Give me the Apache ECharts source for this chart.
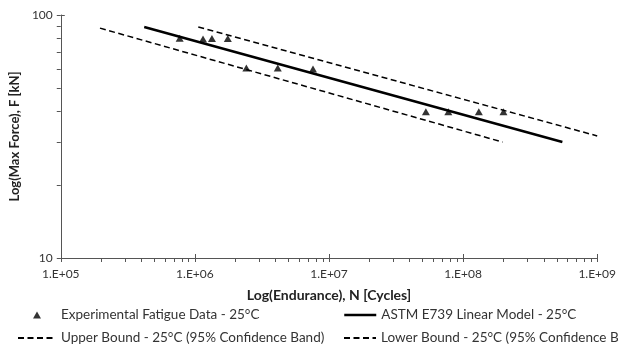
<!DOCTYPE html>
<html><head><meta charset="utf-8">
<script src="https://cdn.jsdelivr.net/npm/echarts@6/dist/echarts.min.js"></script>
<style>html,body{margin:0;padding:0;background:#fff}#c{width:619px;height:350px}</style>
</head><body><div id="c"></div>
<script>
// Experimental fatigue data (cycles, kN)
const expCycles = [7.7e5, 1.15e6, 1.34e6, 1.76e6, 2.42e6, 4.15e6, 7.6e6, 5.28e7, 7.76e7, 1.31e8, 2.0e8];
const expForce  = [80.3, 79.6, 80, 80, 60.5, 60.5, 60, 40, 40, 40, 40];
// ASTM E739 linear model endpoints
const modelCycles = [4.19e5, 5.5e8];
const modelForce  = [89.3, 30.0];
// Upper bound endpoints
const upperCycles = [1.06e6, 1.0e9];
const upperForce  = [89.3, 31.8];
// Lower bound endpoints
const lowerCycles = [1.96e5, 1.97e8];
const lowerForce  = [88.3, 30.0];
// Tick values
const xMajor = [1e5, 1e6, 1e7, 1e8, 1e9];
const xMinor = [];
[1e5,1e6,1e7,1e8].forEach(d => { for (let k=2;k<=9;k++) xMinor.push(d*k); });
const yMajor = [10, 100];
const yMinor = [20, 30, 40, 50, 60, 70, 80, 90];
const seriesNames = ['Experimental Fatigue Data - 25°C','ASTM E739 Linear Model - 25°C','Upper Bound - 25°C (95% Confidence Band)','Lower Bound - 25°C (95% Confidence Band)'];

const FONT = 'Lato';
const axisColor = '#555';
const zip = (a,b) => a.map((v,i)=>[v,b[i]]);
const lg = a => a.map(v => Math.log10(v));
function xLabel(v){ const e = Math.round(Math.log10(v)); return '1.E+' + (e<10?'0':'') + e; }

const chart = echarts.init(document.getElementById('c'));
const baseX = {type:'log', logBase:10, min:1e5, max:1e9, gridIndex:0, position:'bottom', splitLine:{show:false}};
const baseY = {type:'log', logBase:10, min:10, max:100, gridIndex:0, position:'left', splitLine:{show:false}};
// Tick-only overlay axes in exponent space (same pixel mapping as the log axes)
const tickX = {type:'value', min:5, max:9, gridIndex:0, position:'bottom', splitLine:{show:false},
               axisLine:{show:false, onZero:false}, axisLabel:{show:false}};
const tickY = {type:'value', min:1, max:2, gridIndex:0, position:'left', splitLine:{show:false},
               axisLine:{show:false, onZero:false}, axisLabel:{show:false}};
const tickLine = {color:axisColor, width:1};
const legText = {fontFamily:FONT, fontSize:13.5, color:'#333'};
chart.setOption({
  animation:false,
  textStyle:{fontFamily:FONT},
  grid:{left:54, right:19, top:15, bottom:92, containLabel:false},
  xAxis:[
    Object.assign({}, baseX, {
      name:'Log(Endurance), N [Cycles]', nameLocation:'middle', nameGap:30,
      nameTextStyle:{fontFamily:FONT, fontSize:14, fontWeight:'bold', color:'#222'},
      axisLine:{lineStyle:{color:axisColor, width:1}, onZero:false},
      axisTick:{show:false},
      axisLabel:{customValues:xMajor, formatter:xLabel, fontFamily:FONT, fontSize:12, color:'#333', margin:10}
    }),
    Object.assign({}, tickX, {axisTick:{show:true, length:4, lineStyle:tickLine, customValues:lg(xMajor.concat(xMinor))}}),
    Object.assign({}, tickX, {axisTick:{show:true, inside:true, length:4, lineStyle:tickLine, customValues:lg(xMajor)}})
  ],
  yAxis:[
    Object.assign({}, baseY, {
      name:'Log(Max Force), F [kN]', nameLocation:'middle', nameGap:35, nameRotate:90,
      nameTextStyle:{fontFamily:FONT, fontSize:13, fontWeight:'bold', color:'#222'},
      axisLine:{show:true, lineStyle:{color:axisColor, width:1}, onZero:false},
      axisTick:{show:false},
      axisLabel:{customValues:yMajor, fontFamily:FONT, fontSize:12, color:'#333', margin:8}
    }),
    Object.assign({}, tickY, {axisTick:{show:true, length:4, lineStyle:tickLine, customValues:lg(yMajor.concat(yMinor))}}),
    Object.assign({}, tickY, {axisTick:{show:true, inside:true, length:4, lineStyle:tickLine, customValues:lg(yMajor)}})
  ],
  legend:[
    {data:[{name:seriesNames[0], icon:'triangle'}], left:33, top:308, padding:0, itemWidth:8, itemHeight:7,
     textStyle:Object.assign({padding:[0,0,0,15]}, legText)},
    {data:[seriesNames[1]], left:343, top:308, padding:0, itemWidth:32, itemHeight:12, itemStyle:{opacity:0},
     lineStyle:{width:2.5}, textStyle:legText},
    {data:[seriesNames[2]], left:17, top:331, padding:0, itemWidth:38, itemHeight:12, itemStyle:{opacity:0},
     textStyle:legText},
    {data:[seriesNames[3]], left:343, top:331, padding:0, itemWidth:32, itemHeight:12, itemStyle:{opacity:0},
     textStyle:legText}
  ],
  series:[
    {name:seriesNames[0], type:'scatter', symbol:'triangle', symbolSize:[8,7], xAxisIndex:0, yAxisIndex:0,
     itemStyle:{color:'#000'}, data:zip(expCycles, expForce), z:5},
    {name:seriesNames[1], type:'line', symbol:'none', xAxisIndex:0, yAxisIndex:0,
     lineStyle:{color:'#000', width:2.5}, itemStyle:{color:'#000'}, data:zip(modelCycles, modelForce)},
    {name:seriesNames[2], type:'line', symbol:'none', xAxisIndex:0, yAxisIndex:0,
     lineStyle:{color:'#000', width:1.5, type:[6,3.5]}, itemStyle:{color:'#000'}, data:zip(upperCycles, upperForce)},
    {name:seriesNames[3], type:'line', symbol:'none', xAxisIndex:0, yAxisIndex:0,
     lineStyle:{color:'#000', width:1.5, type:[6,3.5]}, itemStyle:{color:'#000'}, data:zip(lowerCycles, lowerForce)}
  ]
});
</script></body></html>
